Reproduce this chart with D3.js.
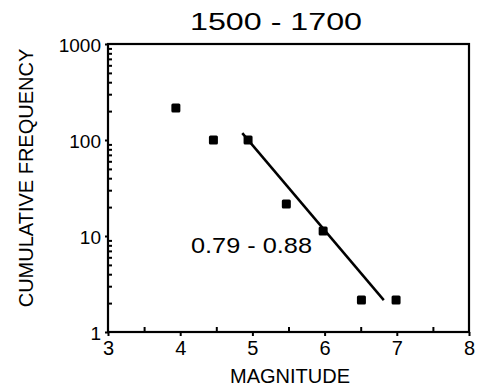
<!DOCTYPE html>
<html lang="en">
<head>
<meta charset="UTF-8">
<title>1500 - 1700</title>
<script src="https://d3js.org/d3.v7.min.js"></script>
<style>
    body { margin: 0; background: #fff; }
    svg { display: block; }
    text { font-family: "Liberation Sans", Arial, sans-serif; fill: #000; }
</style>
</head>
<body>
<svg width="480" height="387"></svg>
<script>
// data
const magnitudes = [3.94, 4.46, 4.94, 5.47, 5.98, 6.51, 6.99];
const frequencies = [215, 100, 100, 21.5, 11.3, 2.15, 2.15];
const fitLine = [[4.86, 118], [6.82, 2.15]];
const xTicks = [3, 4, 5, 6, 7, 8];
const yTicks = [1, 10, 100, 1000];
const titleText = "1500 - 1700";
const bValueText = "0.79 - 0.88";

const svg = d3.select("svg");

const x = d3.scaleLinear().domain([3, 8]).range([108, 469]);
const y = d3.scaleLog().domain([1, 1000]).range([332, 44]);

// frame
svg.append("rect")
    .attr("x", x(3)).attr("y", y(1000))
    .attr("width", x(8) - x(3)).attr("height", y(1) - y(1000))
    .attr("fill", "none").attr("stroke", "#000").attr("stroke-width", 2.2);

// x axis: integer ticks outward, half ticks inward
const xAxis = svg.append("g").attr("transform", `translate(0,${y(1)})`);
xAxis.call(d3.axisBottom(x).tickValues(xTicks).tickFormat(d3.format("d")).tickSize(4).tickPadding(5));
xAxis.append("g").call(d3.axisTop(x).tickValues(d3.range(3.5, 8, 1)).tickFormat("").tickSize(5));
xAxis.selectAll(".domain").remove();
xAxis.selectAll("line").attr("stroke", "#000").attr("stroke-width", 2);
xAxis.selectAll("text").attr("font-size", 20).attr("font-family", "Liberation Sans, Arial, sans-serif");

// y axis: decade ticks outward, minor ticks inward
const minor = [];
for (let d = 1; d < 1000; d *= 10) for (let k = 2; k < 10; k++) minor.push(d * k);
const yAxis = svg.append("g").attr("transform", `translate(${x(3)},0)`);
yAxis.call(d3.axisLeft(y).tickValues(yTicks).tickFormat(d3.format("d")).tickSize(3).tickPadding(4));
yAxis.append("g").call(d3.axisRight(y).tickValues(minor).tickFormat("").tickSize(4));
yAxis.selectAll(".domain").remove();
yAxis.selectAll("line").attr("stroke", "#000").attr("stroke-width", 2);
yAxis.selectAll("text").attr("font-size", 19).attr("dy", "0.4em")
    .attr("font-family", "Liberation Sans, Arial, sans-serif");

// fit line
svg.append("line")
    .attr("x1", x(fitLine[0][0])).attr("y1", y(fitLine[0][1]))
    .attr("x2", x(fitLine[1][0])).attr("y2", y(fitLine[1][1]))
    .attr("stroke", "#000").attr("stroke-width", 2.5);

// points
svg.append("g").selectAll("rect")
    .data(magnitudes.map((m, i) => [m, frequencies[i]]))
    .join("rect")
    .attr("x", d => x(d[0]) - 4.5).attr("y", d => y(d[1]) - 4.5)
    .attr("width", 9).attr("height", 9).attr("rx", 1.5)
    .attr("fill", "#000");

// texts
svg.append("text")
    .attr("x", 276).attr("y", 30)
    .attr("text-anchor", "middle")
    .attr("font-size", 23)
    .attr("textLength", 172).attr("lengthAdjust", "spacingAndGlyphs")
    .text(titleText);

svg.append("text")
    .attr("x", 191).attr("y", 253)
    .attr("font-size", 22)
    .attr("textLength", 121).attr("lengthAdjust", "spacingAndGlyphs")
    .text(bValueText);

svg.append("text")
    .attr("x", 290).attr("y", 383)
    .attr("text-anchor", "middle")
    .attr("font-size", 20)
    .text("MAGNITUDE");

svg.append("text")
    .attr("transform", "translate(33,178) rotate(-90)")
    .attr("text-anchor", "middle")
    .attr("font-size", 20)
    .text("CUMULATIVE  FREQUENCY");
</script>
</body>
</html>
